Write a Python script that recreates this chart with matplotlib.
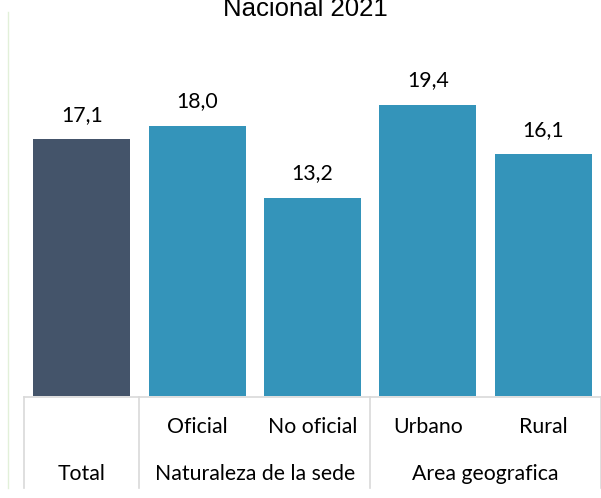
import matplotlib
matplotlib.use('Agg')
import matplotlib.pyplot as plt
from matplotlib.lines import Line2D
from matplotlib.transforms import blended_transform_factory

# Data
categories = ['Total', 'Oficial', 'No oficial', 'Urbano', 'Rural']
values = [17.1, 18.0, 13.2, 19.4, 16.1]
labels = ['17,1', '18,0', '13,2', '19,4', '16,1']
groups = ['Total', 'Naturaleza de la sede', 'Area geografica']
group_spans = [(0, 0), (1, 2), (3, 4)]
colors = ['#44546a', '#3494ba', '#3494ba', '#3494ba', '#3494ba']
title = 'Nacional 2021'

W, H = 601, 498
fig = plt.figure(figsize=(W / 100, H / 100), dpi=100)
ax = fig.add_axes([24 / W, 1 - 396 / H, 1 - 24 / W, 360 / H])

x = list(range(len(categories)))
ax.bar(x, values, width=0.84, color=colors)
ax.set_xlim(-0.5, len(categories) - 0.5)
ax.set_ylim(0, 24)
ax.axis('off')

font = 'Lato'
fs = 15.3
for xi, v, lab in zip(x, values, labels):
    ax.annotate(lab, (xi, v), xytext=(0, 13.5), textcoords='offset points',
                ha='center', va='baseline', fontsize=fs, family=font)

tr = blended_transform_factory(ax.transData, fig.transFigure)

# table lines under the axis
line_color = '#d9d9d9'
y_top = 1 - 397 / H
y_bot = 1 - 488 / H
fig.add_artist(Line2D([-0.5, 4.5], [y_top, y_top], transform=tr, color=line_color, lw=1.2))
for b in [-0.5, 0.5, 2.5, 4.5]:
    fig.add_artist(Line2D([b, b], [y_top, y_bot], transform=tr, color=line_color, lw=1.2))

# category labels
for xi, c in zip(x[1:], categories[1:]):
    fig.text(xi, 1 - 427 / H, c, transform=tr, ha='center', va='center',
             fontsize=fs, family=font)
for g, (a, b) in zip(groups, group_spans):
    fig.text((a + b) / 2, 1 - 474 / H, g, transform=tr, ha='center', va='center',
             fontsize=fs, family=font)

# light green frame line on the left
fig.add_artist(Line2D([8 / W, 8 / W], [1 - 12 / H, 1 - 488 / H],
                      transform=fig.transFigure, color='#e2f0d9', lw=1))

fig.text(305 / W, 1 - 16 / H, title, ha='center', va='baseline',
         fontsize=18.5, family='Liberation Sans')

fig.savefig('out.png', dpi=100)
